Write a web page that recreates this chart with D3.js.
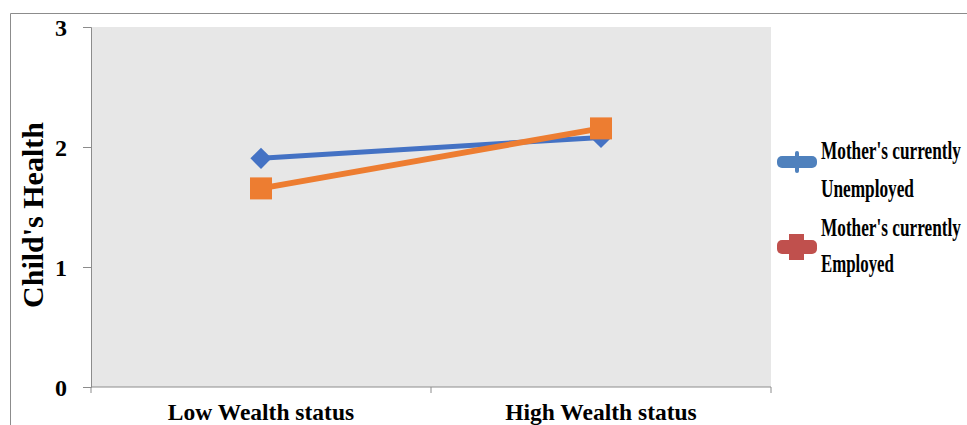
<!DOCTYPE html>
<html>
<head>
<meta charset="utf-8">
<script src="https://cdn.jsdelivr.net/npm/d3@7/dist/d3.min.js"></script>
<style>
  html, body { margin: 0; padding: 0; background: #fff; }
  svg { display: block; }
  text { font-family: "Liberation Serif", "Times New Roman", serif; font-weight: bold; fill: #000; }
</style>
</head>
<body>
<svg id="chart" width="967" height="425"></svg>
<script>
// Wealth status groups on the x axis
const categories = ["Low Wealth status", "High Wealth status"];
// Mean child's health score by mother's employment status
const unemployed = [1.906, 2.08];
const employed = [1.655, 2.155];
const seriesNames = [["Mother's currently", "Unemployed"], ["Mother's currently", "Employed"]];
const yTicks = [0, 1, 2, 3];

const svg = d3.select("#chart");
const plot = { left: 91, right: 771, top: 27, bottom: 387 };

// outer frame of the chart
svg.append("path")
  .attr("d", `M10.5,425 V13.5 H967`)
  .attr("fill", "none").attr("stroke", "#8c8c8c").attr("stroke-width", 1);

const x = d3.scaleBand().domain(categories).range([plot.left, plot.right]);
const y = d3.scaleLinear().domain([0, 3]).range([plot.bottom, plot.top]);

// plot background
svg.append("rect")
  .attr("x", plot.left).attr("y", plot.top)
  .attr("width", plot.right - plot.left).attr("height", plot.bottom - plot.top)
  .attr("fill", "#e7e7e7");

// y axis
const yAxis = svg.append("g").attr("transform", `translate(${plot.left},0)`)
  .call(d3.axisLeft(y).tickValues(yTicks).tickFormat(d3.format("d")).tickSize(8).tickPadding(16));
yAxis.select(".domain").attr("stroke", "#8c8c8c");
yAxis.selectAll(".tick line").attr("stroke", "#8c8c8c");
yAxis.selectAll(".tick text").attr("font-size", 24).attr("font-family", "Liberation Serif")
  .attr("font-weight", "bold").attr("fill", "#000").attr("dy", "0.36em");

// x axis with tick marks on category boundaries
const xAxisG = svg.append("g").attr("transform", `translate(0,${plot.bottom})`);
xAxisG.append("line").attr("x1", plot.left).attr("x2", plot.right)
  .attr("stroke", "#8c8c8c");
const bounds = [plot.left].concat(categories.map(c => x(c) + x.bandwidth()));
xAxisG.selectAll(".bt").data(bounds).enter().append("line")
  .attr("x1", d => d).attr("x2", d => d).attr("y1", 0).attr("y2", 6)
  .attr("stroke", "#8c8c8c");
xAxisG.selectAll(".cl").data(categories).enter().append("text")
  .attr("x", d => x(d) + x.bandwidth() / 2).attr("y", 33)
  .attr("text-anchor", "middle").attr("font-size", 23.5)
  .text(d => d);

// y axis title
svg.append("text")
  .attr("transform", `translate(43,215) rotate(-90)`)
  .attr("text-anchor", "middle").attr("font-size", 30)
  .text("Child's Health");

const cx = d => x(d) + x.bandwidth() / 2;
const line = d3.line().x((d, i) => cx(categories[i])).y(d => y(d));

// unemployed series: blue line with diamonds
svg.append("path").datum(unemployed).attr("d", line)
  .attr("fill", "none").attr("stroke", "#4472c4").attr("stroke-width", 5);
svg.selectAll(".dia").data(unemployed).enter().append("path")
  .attr("transform", (d, i) => `translate(${cx(categories[i])},${y(d)}) rotate(45)`)
  .attr("d", "M-7.5,-7.5H7.5V7.5H-7.5Z").attr("fill", "#4472c4");

// employed series: orange line with squares
svg.append("path").datum(employed).attr("d", line)
  .attr("fill", "none").attr("stroke", "#ed7d31").attr("stroke-width", 6);
svg.selectAll(".sq").data(employed).enter().append("rect")
  .attr("x", (d, i) => cx(categories[i]) - 11).attr("y", d => y(d) - 11)
  .attr("width", 22).attr("height", 22).attr("fill", "#ed7d31");

// legend: condensed labels, squeezed horizontally to a target width
const legend = svg.append("g");
const legColors = ["#4f81bd", "#c0504d"];
const legY = [162, 247];
const textY = [[159, 197], [236, 272]];
const lineWidths = [[140, 93], [140, 73]];

function condensed(g, str, tx, ty, w) {
  const t = g.append("text").attr("x", 0).attr("y", 0).attr("font-size", 26).text(str);
  const natural = t.node().getComputedTextLength();
  t.attr("transform", `translate(${tx},${ty}) scale(${w / natural},1)`);
}

seriesNames.forEach((nm, i) => {
  const g = legend.append("g");
  g.append("rect").attr("x", 777).attr("y", legY[i] - (i === 0 ? 6 : 7)).attr("width", 40)
    .attr("height", i === 0 ? 12 : 14).attr("rx", 5).attr("fill", legColors[i]);
  if (i === 0) {
    g.append("rect").attr("x", 795).attr("y", legY[i] - 11).attr("width", 4).attr("height", 22)
      .attr("rx", 2).attr("fill", legColors[i]);
  } else {
    g.append("rect").attr("x", 789).attr("y", legY[i] - 13).attr("width", 15).attr("height", 26)
      .attr("fill", legColors[i]);
  }
  condensed(g, nm[0], 821, textY[i][0], lineWidths[i][0]);
  condensed(g, nm[1], 821, textY[i][1], lineWidths[i][1]);
});
</script>
</body>
</html>
